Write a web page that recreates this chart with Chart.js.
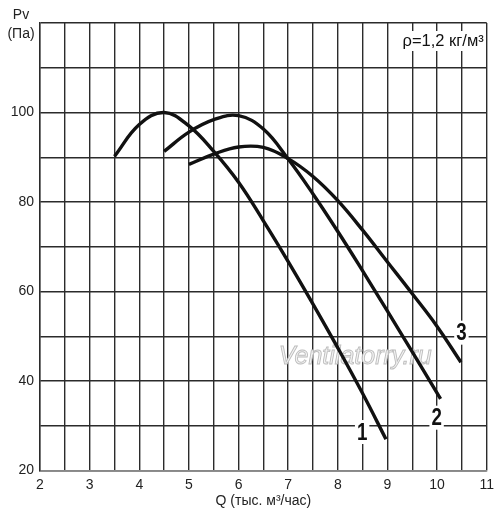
<!DOCTYPE html>
<html>
<head>
<meta charset="utf-8">
<script src="https://cdn.jsdelivr.net/npm/chart.js@4/dist/chart.umd.min.js"></script>
<style>
  html, body { margin: 0; padding: 0; background: #fff; }
  #wrap { width: 500px; height: 518px; position: relative; }
</style>
</head>
<body>
<div id="wrap"><canvas id="c"></canvas></div>
<script>
// ---- data ----
const curve1X = [3.5, 4, 4.5, 5, 5.5, 6, 6.5, 7, 7.5, 8, 8.5, 8.97];
const curve1Y = [90.2, 97.3, 100, 97, 91.3, 84.4, 75.8, 66.7, 57.2, 47.4, 37.2, 27];
const curve2X = [4.5, 5, 5.5, 6, 6.5, 7, 7.5, 8, 8.5, 9, 9.5, 10.07];
const curve2Y = [91.3, 95.6, 98.4, 99.3, 96.3, 89.6, 81.8, 73.4, 64.6, 55.6, 46.5, 36];
const curve3X = [5, 5.5, 6, 6.5, 7, 7.5, 8, 8.5, 9, 9.5, 10, 10.48];
const curve3Y = [88.4, 90.7, 92.3, 92.2, 89.7, 85.7, 80.3, 73.7, 66.6, 59.5, 52.2, 44.2];
const curveNames = ['1', '2', '3'];
const xTickLabels = [2, 3, 4, 5, 6, 7, 8, 9, 10, 11];
const yTickLabels = [20, 40, 60, 80, 100];
const xTitle = 'Q (тыс. м³/час)';
const yTitle = ['Pv', '(Па)'];
const densityNote = 'ρ=1,2 кг/м³';
const watermark = 'Ventilatorry.ru';
// label anchors in data units
const labelAnchorX = [8.49, 9.99, 10.49];
const labelAnchorY = [28.6, 31.8, 50.8];

const toPts = (xs, ys) => xs.map((x, i) => ({ x, y: ys[i] }));

const FONT = "'Liberation Sans', Arial, sans-serif";

const decorPlugin = {
  id: 'decor',
  beforeDatasetsDraw(chart) {
    const { ctx, scales: { x, y } } = chart;
    ctx.save();
    // watermark
    ctx.font = "italic 25px " + FONT;
    ctx.textAlign = 'center';
    ctx.textBaseline = 'middle';
    const wx = x.getPixelForValue(8.35), wy = y.getPixelForValue(45.4);
    ctx.fillStyle = '#f3f3f3';
    ctx.fillText(watermark, wx, wy);
    ctx.strokeStyle = '#bdbdbd';
    ctx.lineWidth = 0.9;
    ctx.strokeText(watermark, wx, wy);
    // curve labels with white background (condensed bold)
    ctx.font = "bold 24px " + FONT;
    curveNames.forEach((n, i) => {
      const px = x.getPixelForValue(labelAnchorX[i]);
      const py = y.getPixelForValue(labelAnchorY[i]);
      const w = ctx.measureText(n).width * 0.78;
      ctx.fillStyle = '#fff';
      ctx.fillRect(px - w / 2 - 2, py - 12, w + 4, 24);
      ctx.save();
      ctx.translate(px, py + 1);
      ctx.scale(0.78, 1);
      ctx.fillStyle = '#111';
      ctx.fillText(n, 0, 0);
      ctx.restore();
    });
    // density note
    ctx.font = "16.5px " + FONT;
    ctx.textAlign = 'right';
    const dw = ctx.measureText(densityNote).width;
    const rx = chart.chartArea.right - 3, ry = chart.chartArea.top + 18;
    ctx.fillStyle = '#fff';
    ctx.fillRect(rx - dw - 3, ry - 10, dw + 4, 20);
    ctx.fillStyle = '#111';
    ctx.fillText(densityNote, rx, ry);
    ctx.restore();
  },
  afterDraw(chart) {
    const { ctx } = chart;
    ctx.save();
    ctx.font = "14px " + FONT;
    ctx.fillStyle = '#222';
    ctx.textAlign = 'center';
    ctx.textBaseline = 'middle';
    ctx.fillText(yTitle[0], 21, 15);
    ctx.fillText(yTitle[1], 21, 34);
    ctx.restore();
  }
};

const lineStyle = {
  borderColor: '#111',
  borderWidth: 3.4,
  pointRadius: 0,
  showLine: true,
  fill: false,
  tension: 0.4
};

new Chart(document.getElementById('c'), {
  type: 'scatter',
  data: {
    datasets: [
      { label: curveNames[0], data: toPts(curve1X, curve1Y), ...lineStyle },
      { label: curveNames[1], data: toPts(curve2X, curve2Y), ...lineStyle },
      { label: curveNames[2], data: toPts(curve3X, curve3Y), ...lineStyle }
    ]
  },
  options: {
    responsive: true,
    maintainAspectRatio: false,
    animation: false,
    layout: { padding: { top: 23, right: 12, left: 0, bottom: 0 } },
    plugins: { legend: { display: false }, tooltip: { enabled: false } },
    scales: {
      x: {
        type: 'linear',
        min: 2, max: 11,
        afterFit(s) { s.height = 47.5; },
        ticks: {
          stepSize: 0.5,
          autoSkip: false,
          maxRotation: 0,
          padding: 6,
          color: '#222',
          font: { family: FONT, size: 14 },
          callback: v => xTickLabels.includes(v) ? String(v) : ''
        },
        grid: { color: '#2b2b2b', lineWidth: 1.4, drawTicks: false },
        border: { color: '#888', width: 1.4 },
        title: {
          display: true,
          text: xTitle,
          color: '#222',
          font: { family: FONT, size: 14 },
          padding: { top: 0, bottom: 8 }
        }
      },
      y: {
        type: 'linear',
        min: 20, max: 120,
        afterFit(s) { s.width = 40; },
        ticks: {
          stepSize: 10,
          autoSkip: false,
          padding: 6,
          color: '#222',
          font: { family: FONT, size: 14 },
          callback: v => yTickLabels.includes(v) ? String(v) : ''
        },
        grid: { color: '#2b2b2b', lineWidth: 1.4, drawTicks: false },
        border: { color: '#2b2b2b', width: 1.4 }
      }
    }
  },
  plugins: [decorPlugin]
});
</script>
</body>
</html>
